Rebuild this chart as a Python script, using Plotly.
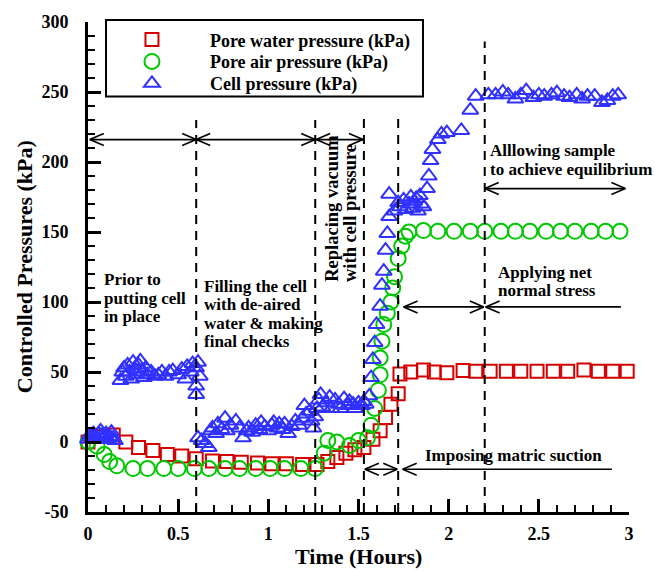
import plotly.graph_objects as go

# ---- measured series -------------------------------------------------------
water_t = [0.0, 0.06, 0.14, 0.21, 0.28, 0.36, 0.44, 0.52, 0.60, 0.69, 0.77, 0.85,
           0.94, 1.02, 1.10, 1.19, 1.27, 1.33, 1.38, 1.43, 1.48, 1.53, 1.58, 1.62,
           1.65, 1.68, 1.72, 1.73, 1.79, 1.86, 1.92, 1.99, 2.08, 2.15, 2.23, 2.32,
           2.40, 2.49, 2.58, 2.66, 2.75, 2.83, 2.91, 2.99]
water_p = [0, 4, 5, 0, -4, -6, -9, -10, -12, -13.5, -14, -14.5,
           -15, -15.5, -15.5, -16, -16, -14, -11, -8, -5.5, -4, 2, 8,
           17.5, 27, 34.5, 48.5, 50, 51.5, 50, 49.5, 51, 50.5, 50.5, 50.5,
           50.5, 50.5, 50.5, 50.5, 51.5, 50.5, 50.5, 50.5]

air_t = [0.0, 0.05, 0.09, 0.12, 0.16, 0.25, 0.33, 0.42, 0.50, 0.59, 0.67, 0.76,
         0.84, 0.93, 1.01, 1.09, 1.18, 1.26, 1.31, 1.33, 1.38, 1.45, 1.50, 1.55,
         1.57, 1.59, 1.61, 1.62, 1.62, 1.63, 1.64, 1.66, 1.68, 1.69, 1.70, 1.72,
         1.74, 1.76, 1.78, 1.86, 1.94, 2.03, 2.12, 2.20, 2.29, 2.37, 2.45, 2.54,
         2.62, 2.70, 2.79, 2.87, 2.95]
air_p = [0, -3, -9, -14, -17, -19, -19, -19, -19, -19, -19, -19,
         -19, -19, -19, -19, -19, -19, -8, 1, 0, -2.5, 1, 3,
         12, 24, 37, 48, 60, 72, 84, 92, 100, 110, 118, 131,
         140, 147, 150, 151, 150.5, 150.5, 150.5, 150.5, 150.5, 150.5, 150.5, 150.5,
         150.5, 150.5, 150.5, 150.5, 150.5]

cell_t = [0.00, 0.01, 0.02, 0.03, 0.04, 0.05, 0.06, 0.07, 0.08, 0.09, 0.10, 0.11,
          0.12, 0.13, 0.14, 0.15,
          0.18, 0.19, 0.20, 0.21, 0.22, 0.23, 0.24, 0.25, 0.26, 0.27, 0.28, 0.29,
          0.30, 0.31, 0.32, 0.33, 0.35, 0.37, 0.39, 0.41, 0.43, 0.45, 0.47, 0.50,
          0.52, 0.54, 0.55, 0.57, 0.58, 0.60, 0.61, 0.62, 0.60, 0.60,
          0.61, 0.63, 0.65, 0.67, 0.68, 0.69, 0.71, 0.72, 0.74, 0.76, 0.77, 0.79,
          0.82, 0.84, 0.86, 0.88, 0.89, 0.91, 0.93, 0.95, 0.96, 0.98, 1.00, 1.02,
          1.03, 1.05, 1.06, 1.08, 1.09, 1.11, 1.13, 1.15, 1.17, 1.19, 1.20, 1.21,
          1.23, 1.24, 1.25, 1.26, 1.27,
          1.28, 1.29, 1.30, 1.32, 1.34, 1.35, 1.37, 1.39, 1.40, 1.42, 1.44, 1.45,
          1.47, 1.48, 1.50, 1.52, 1.53, 1.54,
          1.56, 1.57, 1.58, 1.59, 1.60, 1.62, 1.63, 1.64, 1.65, 1.66, 1.67, 1.67,
          1.70, 1.72, 1.73, 1.75, 1.76, 1.78, 1.79, 1.80, 1.81, 1.82, 1.83, 1.84,
          1.85, 1.86, 1.88, 1.89, 1.90, 1.91, 1.94, 1.96, 1.99, 2.07, 2.12, 2.15,
          2.22, 2.26, 2.30, 2.33, 2.37, 2.40, 2.43, 2.47, 2.50, 2.53, 2.57, 2.60,
          2.64, 2.67, 2.71, 2.74, 2.77, 2.81, 2.85, 2.88, 2.91, 2.94]
cell_p = [2, 5, 3, 6, 4, 2, 6, 8, 5, 3, 6, 2,
          4, 7, 3, 1,
          44, 50, 53, 47, 55, 50, 45, 57, 52, 48, 55, 58,
          50, 46, 53, 48, 50, 47, 48, 50, 47, 50, 51, 48,
          52, 45, 54, 50, 56, 53, 57, 47, 40, 34,
          3, 1, -1, -4, 8, 10, 6, 13, 9, 17, 8, 12,
          15, 10, 3, 8, 10, 7, 12, 9, 14, 11, 8, 12,
          14, 10, 13, 9, 13, 6, 11, 15, 12, 17, 26, 20,
          22, 15, 10, 18, 24,
          30, 34, 25, 28, 32, 24, 30, 27, 24, 31, 26, 29,
          27, 24, 28, 26, 29, 27,
          33, 46, 59, 71, 84, 97, 112, 122, 137, 149, 161, 177,
          165, 171, 168, 173, 166, 170, 175, 167, 172, 174, 165, 176,
          170, 168, 181, 190, 201, 209, 216, 220, 221, 222.5, 237, 247,
          248, 248, 250, 248, 245, 248, 251, 246, 248, 247, 248, 249.5,
          247, 246, 248, 245, 247, 247, 242.5, 244, 247, 248]

# stage boundaries (hours) and their dashed-line tops (kPa)
stage_t = [0.60, 1.26, 1.53, 1.72, 2.20]
stage_top = [230, 230, 233, 232, 286]

RED, GREEN, BLUE = "#d40000", "#00c800", "#3030ff"
FONT = "Liberation Serif"

fig = go.Figure()
fig.add_trace(go.Scatter(
    x=water_t, y=water_p, mode="markers", name="<b>Pore water pressure (kPa)</b>",
    cliponaxis=False, legend="legend",
    marker=dict(symbol="square-open", size=13, color=RED, line=dict(width=2, color=RED))))
fig.add_trace(go.Scatter(
    x=air_t, y=air_p, mode="markers", name="<b>Pore air pressure (kPa)</b>",
    cliponaxis=False, legend="legend2",
    marker=dict(symbol="circle-open", size=15, color=GREEN, line=dict(width=2, color=GREEN))))
fig.add_trace(go.Scatter(
    x=cell_t, y=cell_p, mode="markers", name="<b>Cell pressure (kPa)</b>",
    cliponaxis=False, legend="legend3",
    marker=dict(symbol="triangle-up-open", size=14, color=BLUE, line=dict(width=2, color=BLUE))))

shapes = []
for t, top in zip(stage_t, stage_top):
    shapes.append(dict(type="line", xref="x", yref="y", x0=t, x1=t, y0=-50, y1=top,
                       line=dict(color="black", width=2, dash="9px,7px")))

ARROW = dict(color="black", width=1.6)
HEAD_L, HEAD_H = 14, 6


def head(x, y, pointing):
    """Open V arrowhead with its tip at (x, y); pointing = +1 right, -1 left."""
    out = []
    for dy in (HEAD_H, -HEAD_H):
        out.append(dict(type="line", xref="x", yref="y", xsizemode="pixel", ysizemode="pixel",
                        xanchor=x, yanchor=y, x0=0, y0=0, x1=-pointing * HEAD_L, y1=dy,
                        line=ARROW))
    return out


def arrow(xa, xb, y, left=True, right=True):
    s = [dict(type="line", xref="x", yref="y", x0=xa, x1=xb, y0=y, y1=y, line=ARROW)]
    if left:
        s += head(xa, y, -1)
    if right:
        s += head(xb, y, +1)
    return s


shapes += arrow(0.01, 0.60, 216)
shapes += arrow(0.60, 1.26, 216)
shapes += arrow(1.265, 1.525, 216)
shapes += arrow(2.20, 2.98, 181)
shapes += arrow(1.75, 2.195, 96.5)
shapes += arrow(2.205, 2.955, 96.5, right=False)
shapes += arrow(1.535, 1.715, -19.5)
shapes += arrow(1.745, 2.905, -19.5, right=False)

# legend frame
shapes.append(dict(type="rect", xref="paper", yref="paper",
                   x0=0.0333, x1=0.6192, y0=0.8479, y1=1.004,
                   line=dict(color="black", width=2), fillcolor="rgba(0,0,0,0)"))

annotations = []


def text(x, y, s, xanchor="left", angle=0, yanchor="middle", size=17):
    annotations.append(dict(x=x, y=y, xref="x", yref="y", text="<b>%s</b>" % s,
                            showarrow=False, xanchor=xanchor, yanchor=yanchor,
                            textangle=angle,
                            font=dict(family=FONT, size=size, color="black")))


text(0.078, 116.1, "Prior to")
text(0.078, 102.6, "putting cell")
text(0.078, 89.8, "in place")
text(0.633, 111.1, "Filling the cell")
text(0.633, 98.3, "with de-aired")
text(0.633, 84.8, "water &amp; making")
text(0.633, 72.1, "final checks")
text(1.352, 113.2, "Replacing vacuum", xanchor="center", angle=-90, yanchor="bottom", size=18.5)
text(1.450, 113.2, "with cell pressure", xanchor="center", angle=-90, yanchor="bottom", size=18.5)
text(2.217, 208.3, "Alllowing sample")
text(2.217, 194.9, "to achieve equilibrium")
text(2.261, 121.0, "Applying net")
text(2.261, 108.0, "normal stress")
text(1.856, -9.5, "Imposing matric suction")

# axis titles
annotations.append(dict(x=0.5, y=-0.09, xref="paper", yref="paper", showarrow=False,
                        text="<b>Time (Hours)</b>", xanchor="center", yanchor="middle",
                        font=dict(family=FONT, size=22, color="black")))
annotations.append(dict(x=-0.118, y=0.5, xref="paper", yref="paper", showarrow=False,
                        text="<b>Controlled Pressures (kPa)</b>", textangle=-90,
                        xanchor="center", yanchor="middle",
                        font=dict(family=FONT, size=22, color="black")))

axis_common = dict(showgrid=False, zeroline=False, showline=True, linecolor="black",
                   linewidth=3, ticks="inside", ticklen=13, tickwidth=2.5, tickcolor="black",
                   tickfont=dict(family=FONT, size=18, color="black"), mirror=False)

legend_common = dict(xanchor="left", yanchor="middle", x=0.011,
                     bgcolor="rgba(0,0,0,0)", borderwidth=0, itemwidth=106,
                     font=dict(family=FONT, size=18, color="black"))

fig.update_layout(
    width=655, height=572,
    margin=dict(l=88, r=26, t=19, b=60),
    paper_bgcolor="white", plot_bgcolor="white",
    font=dict(family=FONT, color="black"),
    showlegend=True,
    legend=dict(y=0.9635, **legend_common),
    legend2=dict(y=0.9189, **legend_common),
    legend3=dict(y=0.8742, **legend_common),
    shapes=shapes,
    annotations=annotations,
    xaxis=dict(range=[0, 3], tickvals=[0, 0.5, 1, 1.5, 2, 2.5, 3],
               ticktext=["<b>0</b>", "<b>0.5</b>", "<b>1</b>", "<b>1.5</b>", "<b>2</b>",
                         "<b>2.5</b>", "<b>3</b>"],
               ticklabelstandoff=3,
               minor=dict(dtick=0.1, ticks="inside", ticklen=7, tickwidth=1.5,
                          tickcolor="black", showgrid=False),
               **axis_common),
    yaxis=dict(range=[-50, 300], tickvals=[-50, 0, 50, 100, 150, 200, 250, 300],
               ticktext=["<b>-50</b>", "<b>0</b>", "<b>50</b>", "<b>100</b>", "<b>150</b>",
                         "<b>200</b>", "<b>250</b>", "<b>300</b>"],
               ticklabelstandoff=13,
               minor=dict(dtick=10, ticks="inside", ticklen=7, tickwidth=1.5,
                          tickcolor="black", showgrid=False),
               **axis_common),
)

fig.write_html("out.html")
